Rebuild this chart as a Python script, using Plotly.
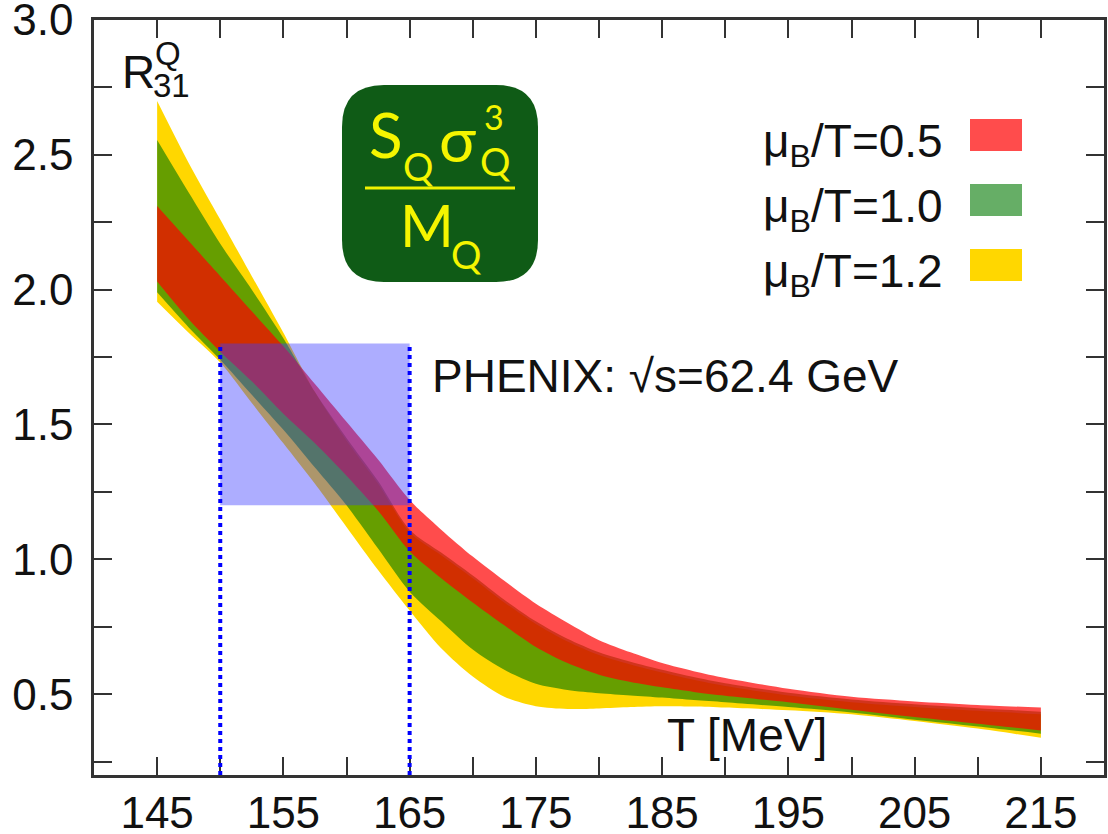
import plotly.graph_objects as go

# ---------------- data ----------------
T = [145, 147.5, 150, 152.5, 155, 157.5, 160, 162.5, 165, 167.5, 170, 172.5, 175, 177.5,
     180, 182.5, 185, 187.5, 190, 195, 200, 205, 210, 215]

red_hi = [2.31, 2.18, 2.05, 1.92, 1.79, 1.65, 1.51, 1.37, 1.22, 1.11, 1.01, 0.92, 0.835, 0.765,
          0.70, 0.655, 0.615, 0.585, 0.56, 0.52, 0.49, 0.473, 0.46, 0.45]
red_lo = [2.03, 1.89, 1.77, 1.66, 1.54, 1.43, 1.31, 1.18, 1.03, 0.93, 0.84, 0.755, 0.675, 0.615,
          0.572, 0.545, 0.525, 0.508, 0.494, 0.47, 0.442, 0.415, 0.39, 0.365]

green_hi = [2.555, 2.36, 2.17, 2.00, 1.82, 1.62, 1.45, 1.29, 1.11, 1.025, 0.94, 0.85, 0.77, 0.705,
            0.655, 0.62, 0.59, 0.563, 0.54, 0.505, 0.48, 0.462, 0.448, 0.435]
green_lo = [1.99, 1.86, 1.74, 1.61, 1.48, 1.34, 1.20, 1.04, 0.88, 0.77, 0.665, 0.59, 0.538, 0.515,
            0.503, 0.495, 0.487, 0.478, 0.47, 0.452, 0.432, 0.405, 0.38, 0.353]

yellow_hi = [2.70, 2.47, 2.26, 2.05, 1.84, 1.62, 1.44, 1.28, 1.10, 1.015, 0.93, 0.84, 0.76, 0.695,
             0.645, 0.61, 0.58, 0.553, 0.53, 0.495, 0.47, 0.452, 0.438, 0.425]
yellow_lo = [1.955, 1.84, 1.73, 1.58, 1.43, 1.28, 1.12, 0.96, 0.81, 0.67, 0.565, 0.49, 0.455, 0.445,
             0.447, 0.452, 0.455, 0.454, 0.45, 0.44, 0.425, 0.40, 0.372, 0.338]

series_labels = ["μ<sub>B</sub>/T=0.5", "μ<sub>B</sub>/T=1.0", "μ<sub>B</sub>/T=1.2"]
series_colors = ["rgba(255,0,0,0.7)", "rgba(0,120,0,0.6)", "#ffd700"]

phenix_T = [150, 165]
phenix_R = [1.2, 1.8]

x_ticks = [145, 155, 165, 175, 185, 195, 205, 215]
x_minor = [150, 160, 170, 180, 190, 200, 210]
y_ticks = [0.5, 1.0, 1.5, 2.0, 2.5, 3.0]
y_minor = [0.25, 0.75, 1.25, 1.75, 2.25, 2.75]

# ---------------- figure ----------------
W, H = 1108, 834
ML, MR, MT, MB = 94, 4, 20, 59
PW, PH = W - ML - MR, H - MT - MB


def px(x):
    """screen x pixel -> paper fraction"""
    return (x - ML) / PW


def py(y):
    """screen y pixel -> paper fraction"""
    return (H - MB - y) / PH


FONT = "Liberation Sans, Arial, Helvetica, sans-serif"
fig = go.Figure()

bands = [(yellow_lo, yellow_hi, series_colors[2]),
         (green_lo, green_hi, series_colors[1]),
         (red_lo, red_hi, series_colors[0])]
for lo, hi, col in bands:
    fig.add_trace(go.Scatter(x=T, y=lo, mode="lines",
                             line=dict(width=0, shape="spline", smoothing=0.8),
                             hoverinfo="skip", showlegend=False))
    fig.add_trace(go.Scatter(x=T, y=hi, mode="lines", fill="tonexty", fillcolor=col,
                             line=dict(width=0, shape="spline", smoothing=0.8),
                             hoverinfo="skip", showlegend=False))

# PHENIX box and dotted lines
fig.add_shape(type="rect", x0=phenix_T[0], x1=phenix_T[1], y0=phenix_R[0], y1=phenix_R[1],
              xref="x", yref="y", fillcolor="rgba(60,60,255,0.42)", line=dict(width=0), layer="above")
for tv in phenix_T:
    fig.add_shape(type="line", x0=tv, x1=tv, y0=0.2, y1=phenix_R[1], xref="x", yref="y",
                  line=dict(color="#0000ff", width=4, dash="dot"), layer="above")

annotations = []
annotations.append(dict(x=430, y=376, text="PHENIX: √s=62.4 GeV", xanchor="left", yanchor="middle", size=46))
annotations.append(dict(x=747, y=735, text="T [MeV]", xanchor="center", yanchor="middle", size=46))
# y label R_31^Q
annotations.append(dict(x=138, y=72, text="R", xanchor="center", yanchor="middle", size=46))
annotations.append(dict(x=168, y=54, text="Q", xanchor="center", yanchor="middle", size=33))
annotations.append(dict(x=171, y=85, text="31", xanchor="center", yanchor="middle", size=33))

# legend
legend_rows = [140, 205, 270]
for lab, col, yc in zip(series_labels, series_colors, legend_rows):
    annotations.append(dict(x=945, y=yc + 4, text=lab, xanchor="right", yanchor="middle", size=46))
    fig.add_shape(type="rect", xref="paper", yref="paper",
                  x0=px(970), x1=px(1022), y0=py(yc - 21), y1=py(yc + 11),
                  fillcolor=col, line=dict(width=0), layer="above")

for a in annotations:
    fig.add_annotation(x=px(a["x"]), y=py(a["y"]), xref="paper", yref="paper", text=a["text"],
                       showarrow=False, xanchor=a["xanchor"], yanchor=a["yanchor"],
                       font=dict(family=FONT, size=a["size"], color="#111111"))

# logo box (rounded rectangle)
bx0, bx1, by0, by1, r = 342, 538, 85, 282, 42
pts = [
    ("M", bx0 + r, by0), ("L", bx1 - r, by0), ("Q", bx1, by0, bx1, by0 + r),
    ("L", bx1, by1 - r), ("Q", bx1, by1, bx1 - r, by1), ("L", bx0 + r, by1),
    ("Q", bx0, by1, bx0, by1 - r), ("L", bx0, by0 + r), ("Q", bx0, by0, bx0 + r, by0),
]
path = ""
for p in pts:
    cmd = p[0]
    coords = p[1:]
    s = " ".join(f"{px(coords[i]):.5f},{py(coords[i+1]):.5f}" for i in range(0, len(coords), 2))
    path += f"{cmd} {s} "
path += "Z"
fig.add_shape(type="path", path=path, xref="paper", yref="paper",
              fillcolor="#0f5b16", line=dict(width=0), layer="above")
fig.add_shape(type="line", xref="paper", yref="paper", x0=px(365), x1=px(515), y0=py(188), y1=py(188),
              line=dict(color="#f2f200", width=3), layer="above")

LOGO_FONT = "Lato, Open Sans, sans-serif"
logo = [
    (386, 134, "S", 62), (418, 166, "Q", 38), (457, 138, "σ", 62),
    (494, 116, "3", 34), (495, 161, "Q", 38), (427, 224, "M", 58), (466, 254, "Q", 38),
]
for x, y, t, s in logo:
    fig.add_annotation(x=px(x), y=py(y), xref="paper", yref="paper", text=t, showarrow=False,
                       xanchor="center", yanchor="middle",
                       font=dict(family=LOGO_FONT, size=s, color="#f5f500"))

axis_common = dict(showline=True, linewidth=2.5, linecolor="#333333", mirror="ticks",
                   ticks="inside", ticklen=18, tickwidth=2, tickcolor="#333333",
                   showgrid=False, zeroline=False, ticklabeloverflow="allow",
                   tickfont=dict(family=FONT, size=44, color="#111111"))

fig.update_xaxes(range=[140, 220], tickvals=x_ticks, ticklabelstandoff=-3,
                 minor=dict(tickvals=x_minor, ticks="inside",
                            ticklen=18, tickwidth=2, tickcolor="#333333"),
                 **axis_common)
fig.update_yaxes(range=[0.2, 3.0], tickvals=y_ticks, tickformat=".1f", ticklabelstandoff=9,
                 minor=dict(tickvals=y_minor, ticks="inside",
                            ticklen=18, tickwidth=2, tickcolor="#333333"),
                 **axis_common)

fig.update_layout(width=W, height=H, margin=dict(l=ML, r=MR, t=MT, b=MB, autoexpand=False),
                  plot_bgcolor="white", paper_bgcolor="white", showlegend=False)

fig.write_html("out.html", config={"displayModeBar": False},
               post_script="document.body.style.margin='0px';document.body.style.overflow='hidden';")
